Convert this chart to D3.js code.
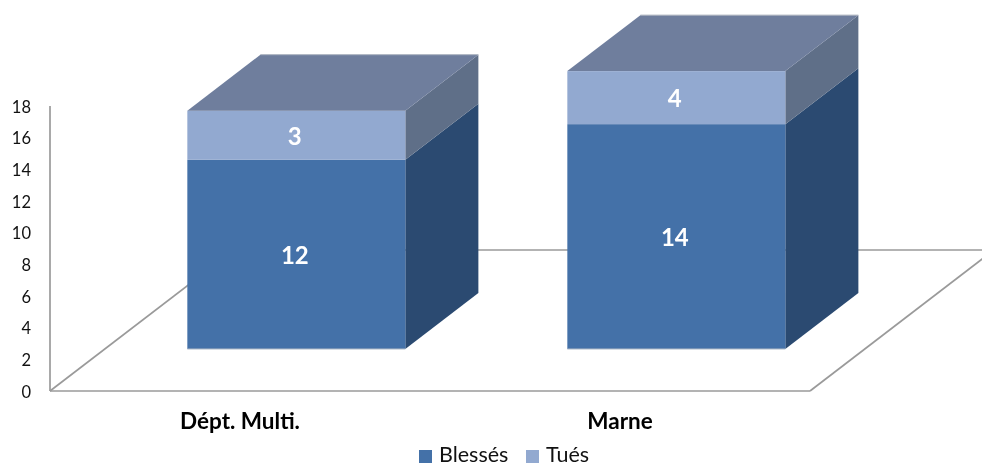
<!DOCTYPE html>
<html><head><meta charset="utf-8">
<script src="https://cdnjs.cloudflare.com/ajax/libs/d3/7.8.5/d3.min.js"></script>
<style>html,body{margin:0;padding:0;background:#fff}svg{display:block;font-family:Lato,"Open Sans",sans-serif;filter:blur(0.4px)}</style>
</head><body><svg id="c" width="982" height="463"></svg>
<script>
const categories = ["Dépt. Multi.", "Marne"];
const seriesNames = ["Blessés", "Tués"];
const blesses = [11.95, 14.2];
const tues = [3.1, 3.35];
const blessesLabels = ["12", "14"];
const tuesLabels = ["3", "4"];
const yTicks = [0, 2, 4, 6, 8, 10, 12, 14, 16, 18];

const W = 982, H = 463;
const svg = d3.select("#c");
const x = d3.scaleBand().domain(categories).range([50, 810]);
const y = d3.scaleLinear().domain([0, 18]).range([391, 106]);

// oblique projection: depth 0 = front of floor, depth 1 = back wall
const depthDx = 184, depthDy = -141;
const P = (px, py, d) => [px + depthDx * d, py + depthDy * d];
const barZ0 = 0.298, barZ1 = 0.695, barW = 218, barShift = 1.5;
const poly = pts => pts.map(p => p.join(",")).join(" ");

const axisColor = "#9a9a9a";
const g = svg.append("g");
const line = (a, b) => g.append("line").attr("x1", a[0]).attr("y1", a[1]).attr("x2", b[0]).attr("y2", b[1])
  .attr("stroke", axisColor).attr("stroke-width", 1.7);

// walls + floor
const x0 = x.range()[0], x1 = x.range()[1], y0 = y(0), yT = y(18);
line([x0, yT], [x0, y0]);
line([x0, y0], [x1, y0]);
line([x0, y0], P(x0, y0, 1));
line(P(x0, y0, 1), [W, y0 + depthDy]);
line([x1, y0], P(x1, y0, 1));

const colors = {
  front: ["#4471a8", "#92a9d0"],
  side: ["#2b4a71", "#5f6f88"],
  top: "#6f7e9d"
};

categories.forEach((c, i) => {
  const cx = x(c) + x.bandwidth() / 2 + barShift;
  const xl = cx - barW / 2, xr = cx + barW / 2;
  const stack = [[0, blesses[i]], [blesses[i], blesses[i] + tues[i]]];
  const labels = [blessesLabels[i], tuesLabels[i]];
  stack.forEach(([a, b], s) => {
    const ya = y(a), yb = y(b);
    g.append("polygon").attr("fill", colors.side[s])
      .attr("points", poly([P(xr, ya, barZ0), P(xr, ya, barZ1), P(xr, yb, barZ1), P(xr, yb, barZ0)]));
    const f0 = P(xl, yb, barZ0), f1 = P(xr, ya, barZ0);
    g.append("rect").attr("fill", colors.front[s])
      .attr("x", f0[0]).attr("y", f0[1]).attr("width", f1[0] - f0[0]).attr("height", f1[1] - f0[1]);
  });
  const top = y(stack[1][1]);
  g.append("polygon").attr("fill", colors.top)
    .attr("points", poly([P(xl, top, barZ0), P(xl, top, barZ1), P(xr, top, barZ1), P(xr, top, barZ0)]));
  // thin light outline along the base and the back edges
  const b0 = P(xl, y(0), barZ0), b1 = P(xr, y(0), barZ0);
  g.append("line").attr("x1", b0[0]).attr("y1", b0[1]).attr("x2", b1[0]).attr("y2", b1[1])
    .attr("stroke", "#a9b4c4").attr("stroke-width", 1);
  const t0 = P(xl, top, barZ1), t1 = P(xr, top, barZ1);
  g.append("line").attr("x1", t0[0]).attr("y1", t0[1]).attr("x2", t1[0]).attr("y2", t1[1])
    .attr("stroke", "#a9b0bd").attr("stroke-width", 1);
  stack.forEach(([a, b], s) => {
    const p = P(cx, y((a + b) / 2), barZ0);
    g.append("text").attr("x", p[0] - 1.5).attr("y", p[1] + 1).attr("dy", "0.36em")
      .attr("text-anchor", "middle").attr("fill", "#fff").attr("font-weight", 700)
      .attr("font-size", 24).text(labels[s]);
  });
});

// y axis labels
const yAxis = svg.append("g").attr("transform", "translate(38,1)")
  .call(d3.axisLeft(y).tickValues(yTicks).tickSize(0).tickPadding(7));
yAxis.select(".domain").remove();
yAxis.selectAll("text").attr("font-family", "Lato").attr("font-size", 16.5).attr("fill", "#111");

// category labels
const xAxis = svg.append("g").attr("transform", "translate(0,421)")
  .call(d3.axisBottom(x).tickSize(0).tickPadding(0));
xAxis.select(".domain").remove();
xAxis.selectAll("text").attr("font-family", "Lato").attr("font-weight", 700).attr("font-size", 22.5)
  .attr("fill", "#000").attr("dy", "0.36em").attr("y", 0);

// legend
const legendX = [419, 526];
seriesNames.forEach((n, i) => {
  svg.append("rect").attr("x", legendX[i]).attr("y", 450).attr("width", 13).attr("height", 13).attr("fill", colors.front[i]);
  svg.append("text").attr("x", legendX[i] + 20).attr("y", 454).attr("dy", "0.36em")
    .attr("font-size", 21.5).attr("fill", "#111").text(n);
});
</script></body></html>
